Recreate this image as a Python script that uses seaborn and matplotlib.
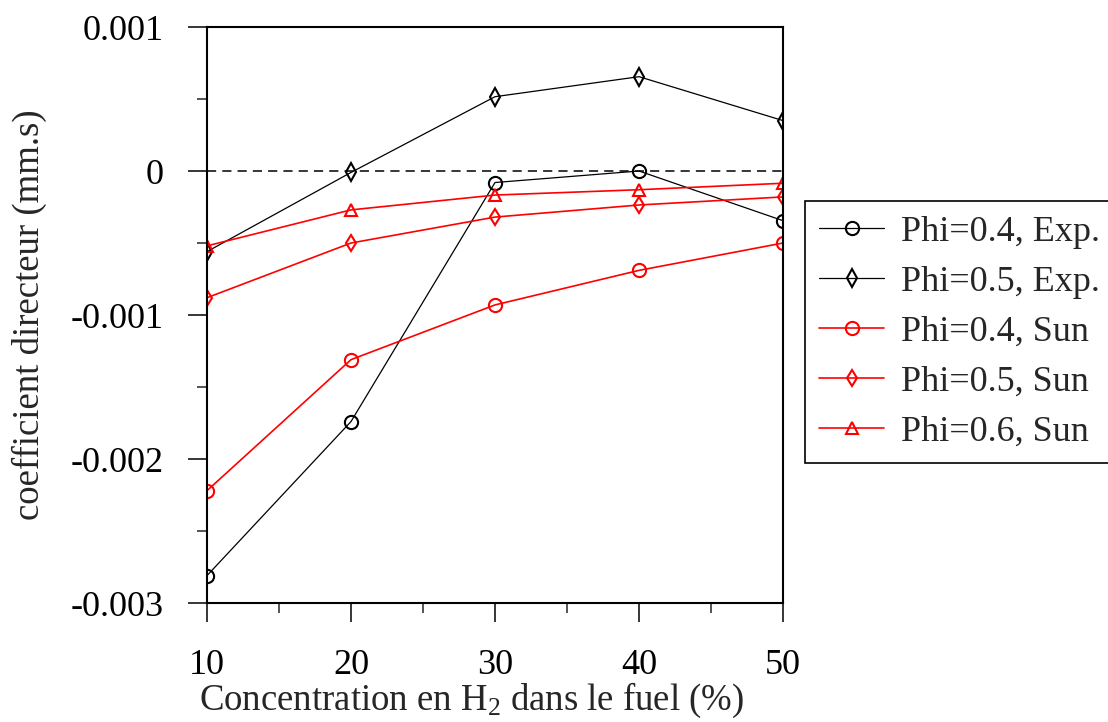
import numpy as np
import pandas as pd
import matplotlib
matplotlib.use("Agg")
import matplotlib.pyplot as plt
from matplotlib.ticker import MultipleLocator
import seaborn as sns

# Données
concentration = [10, 20, 30, 40, 50]
phi04_exp = [-0.00281, -0.00174, -0.00008, 0.0, -0.000345]
phi05_exp = [-0.00056, -0.00001, 0.000516, 0.000655, 0.00035]
phi04_sun = [-0.00222, -0.00131, -0.00093, -0.00069, -0.00050]
phi05_sun = [-0.00088, -0.00050, -0.00032, -0.000236, -0.00018]
phi06_sun = [-0.00052, -0.00027, -0.000167, -0.00013, -0.000085]

series_labels = ["Phi=0.4, Exp.", "Phi=0.5, Exp.", "Phi=0.4, Sun",
                 "Phi=0.5, Sun", "Phi=0.6, Sun"]
series_values = [phi04_exp, phi05_exp, phi04_sun, phi05_sun, phi06_sun]

styles = [
    dict(color="black", marker="o", markersize=9.5, lw=0.9),
    dict(color="black", marker="d", markersize=9, lw=0.9),
    dict(color="red", marker="o", markersize=9.5, lw=1.2),
    dict(color="red", marker="d", markersize=8.5, lw=1.2),
    dict(color="red", marker="^", markersize=8, lw=1.2),
]

sns.set_style("ticks")
plt.rcParams["font.family"] = ["Liberation Serif", "DejaVu Serif"]
plt.rcParams["mathtext.fontset"] = "custom"
plt.rcParams["mathtext.rm"] = "Liberation Serif"
plt.rcParams["mathtext.it"] = "Liberation Serif:italic"

fig = plt.figure(figsize=(11.08, 7.22), dpi=100)
ax = fig.add_axes([0.1868, 0.1648, 0.5199, 0.7978])

for label, values, st in zip(series_labels, series_values, styles):
    df = pd.DataFrame({"x": concentration, "y": values})
    sns.lineplot(data=df, x="x", y="y", ax=ax, label=label,
                 color=st["color"], marker=st["marker"],
                 markersize=st["markersize"], linewidth=st["lw"],
                 markerfacecolor="none", markeredgecolor=st["color"],
                 markeredgewidth=1.5, legend=False)

ax.axhline(0, color="black", linestyle=(0, (6, 4)), linewidth=1.1, zorder=0)

ax.set_xlim(10, 50)
ax.set_ylim(-0.003, 0.001)
ax.xaxis.set_major_locator(MultipleLocator(10))
ax.xaxis.set_minor_locator(MultipleLocator(5))
ax.yaxis.set_major_locator(MultipleLocator(0.001))
ax.yaxis.set_minor_locator(MultipleLocator(0.0005))
ax.yaxis.set_major_formatter(plt.FuncFormatter(lambda v, p: "0" if abs(v) < 1e-12 else f"{v:.3f}"))

ax.tick_params(which="major", length=14, width=1.1, direction="out",
               labelsize=26, pad=17, colors="black")
ax.tick_params(axis="x", which="major", pad=19)
ax.tick_params(which="minor", length=7, width=1.1, direction="out")
for sp in ax.spines.values():
    sp.set_visible(True)
    sp.set_linewidth(1.5)
    sp.set_color("black")

ax.set_xlabel("Concentration en H$_2$ dans le fuel (%)", fontsize=26.5, labelpad=0)
ax.set_ylabel("coefficient directeur (mm.s)", fontsize=26.5)
ax.xaxis.set_label_coords(0.46, -0.135)
ax.yaxis.set_label_coords(-0.278, 0.5)

handles, labels = ax.get_legend_handles_labels()
leg = fig.legend(handles, labels, loc="upper left",
                 bbox_to_anchor=(0.7265, 0.7216), fontsize=26,
                 frameon=True, fancybox=False, edgecolor="black",
                 handlelength=1.8, handletextpad=0.45, labelspacing=0.46,
                 borderpad=0.4, borderaxespad=0, framealpha=1)
leg.get_frame().set_linewidth(1.2)

fig.savefig("out.png", dpi=100)
